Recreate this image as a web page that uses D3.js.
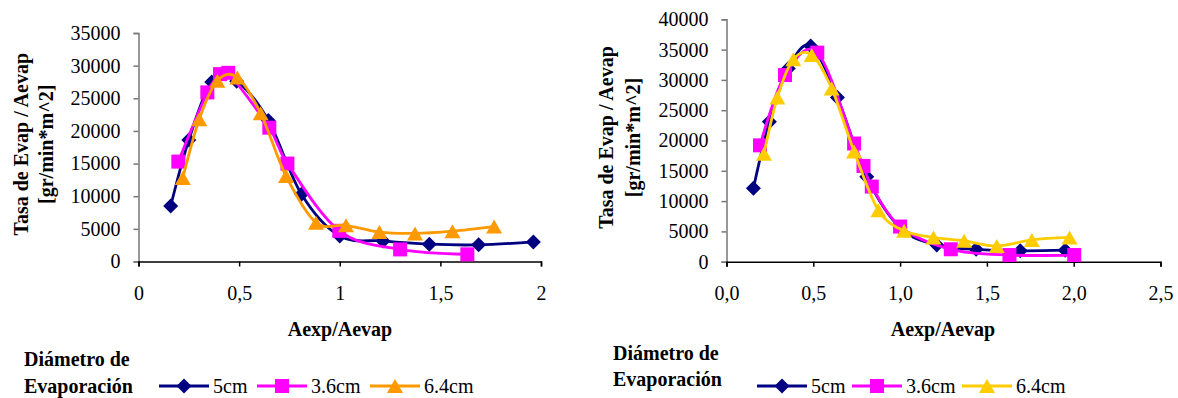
<!DOCTYPE html>
<html>
<head>
<meta charset="utf-8">
<script src="https://cdn.jsdelivr.net/npm/d3@7"></script>
<style>
  html, body { margin: 0; padding: 0; background: #fff; }
  svg { display: block; }
</style>
</head>
<body>
<svg id="chart" width="1178" height="398"></svg>
<script>
// Series names
const seriesNames = ["5cm", "3.6cm", "6.4cm"];

// Left panel: Aexp/Aevap vs evaporation rate per area
const leftX5 = [0.16, 0.25, 0.364, 0.488, 0.645, 0.81, 1.0, 1.215, 1.445, 1.69, 1.962];
const leftY5 = [8500, 18600, 27500, 27600, 21600, 10300, 3900, 3150, 2650, 2550, 3000];
const leftX36 = [0.198, 0.342, 0.405, 0.446, 0.65, 0.74, 0.998, 1.30, 1.634];
const leftY36 = [15300, 25900, 28700, 28900, 20500, 15000, 4700, 1850, 1100];
const leftX64 = [0.22, 0.302, 0.392, 0.491, 0.607, 0.733, 0.882, 1.031, 1.197, 1.374, 1.56, 1.767];
const leftY64 = [12800, 21800, 27700, 28200, 22700, 13100, 5950, 5550, 4500, 4300, 4650, 5350];
const leftXTicks = [0, 0.5, 1, 1.5, 2];
const leftXTickLabels = ["0", "0,5", "1", "1,5", "2"];
const leftYTicks = [0, 5000, 10000, 15000, 20000, 25000, 30000, 35000];

// Right panel
const rightX5 = [0.155, 0.247, 0.356, 0.485, 0.639, 0.808, 1.0, 1.211, 1.438, 1.692, 1.951];
const rightY5 = [12100, 23100, 31900, 35600, 27100, 14000, 5600, 2750, 2050, 1800, 1900];
const rightX36 = [0.193, 0.337, 0.523, 0.735, 0.789, 0.837, 1.0, 1.292, 1.63, 2.003];
const rightY36 = [19200, 30800, 34500, 19500, 15800, 12400, 5800, 2050, 1100, 1100];
const rightX64 = [0.216, 0.293, 0.385, 0.491, 0.606, 0.735, 0.875, 1.023, 1.192, 1.369, 1.557, 1.759, 1.976];
const rightY64 = [17800, 27100, 33400, 34100, 28600, 18200, 8500, 5100, 4000, 3450, 2600, 3600, 4000];
const rightXTicks = [0, 0.5, 1, 1.5, 2, 2.5];
const rightXTickLabels = ["0,0", "0,5", "1,0", "1,5", "2,0", "2,5"];
const rightYTicks = [0, 5000, 10000, 15000, 20000, 25000, 30000, 35000, 40000];

const xTitle = "Aexp/Aevap";
const yTitle1 = "Tasa de Evap / Aevap";
const yTitle2 = "[gr/min*m^2]";
const legendTitle1 = "Diámetro de";
const legendTitle2 = "Evaporación";

const FONT = "'Liberation Serif'";

const zip = (xs, ys) => xs.map((x, i) => ({ x, y: ys[i] }));

const svg = d3.select("#chart");
svg.append("rect").attr("width", 1178).attr("height", 398).attr("fill", "#fff");

// marker shapes centred at the origin
function markerPath(shape, s) {
  const h = s / 2;
  if (shape === "diamond") return `M0,${-h}L${h},0L0,${h}L${-h},0Z`;
  if (shape === "square") return `M${-h},${-h}H${h}V${h}H${-h}Z`;
  // triangle, centred on its bounding box
  return `M0,${-h}L${h + 1},${h}L${-h - 1},${h}Z`;
}

function label(sel, size, bold) {
  return sel.attr("font-family", FONT).attr("font-size", size)
    .attr("font-weight", bold ? "bold" : "normal").attr("fill", "#000");
}

function drawPanel(p) {
  const g = svg.append("g");
  const x = d3.scaleLinear().domain(p.xDomain).range(p.xRange);
  const y = d3.scaleLinear().domain(p.yDomain).range(p.yRange);

  // y axis
  const yAxis = d3.axisLeft(y).tickValues(p.yTicks).tickSize(5).tickPadding(13)
    .tickFormat(d3.format("d"));
  const ya = g.append("g").attr("transform", `translate(${p.xRange[0]},0)`).call(yAxis)
    .attr("font-family", FONT).attr("font-size", 20);
  ya.select(".domain").attr("stroke", "#777").attr("stroke-width", 1.5);
  ya.selectAll(".tick line").attr("stroke", "#777").attr("stroke-width", 1.5);
  label(ya.selectAll("text"), 20, false);

  // x axis
  const xAxis = d3.axisBottom(x).tickValues(p.xTicks).tickSize(5).tickPadding(19)
    .tickFormat((d, i) => p.xTickLabels[i]);
  const xa = g.append("g").attr("transform", `translate(0,${p.yRange[0]})`).call(xAxis)
    .attr("font-family", FONT).attr("font-size", 20);
  xa.select(".domain").attr("stroke", "#000").attr("stroke-width", 1.5);
  xa.selectAll(".tick line").attr("stroke", "#000").attr("stroke-width", 1.5);
  label(xa.selectAll("text"), 20, false);

  // titles
  label(g.append("text"), 20, true).attr("x", p.xTitleX).attr("y", 336)
    .attr("text-anchor", "middle").text(xTitle);
  const cy = (p.yRange[0] + p.yRange[1]) / 2 - 3;
  label(g.append("text"), 20, true).attr("transform", `translate(${p.yTitleX1},${cy}) rotate(-90)`)
    .attr("text-anchor", "middle").text(yTitle1);
  label(g.append("text"), 20, true).attr("transform", `translate(${p.yTitleX2},${cy}) rotate(-90)`)
    .attr("text-anchor", "middle").text(yTitle2);

  // series: smoothed lines with markers
  const line = d3.line().x(d => x(d.x)).y(d => y(d.y)).curve(d3.curveCardinal.tension(0));
  p.series.forEach(s => {
    g.append("path").datum(s.data).attr("d", line).attr("fill", "none")
      .attr("stroke", s.color).attr("stroke-width", 2.8);
    g.selectAll(null).data(s.data).enter().append("path")
      .attr("transform", d => `translate(${x(d.x)},${y(d.y)})`)
      .attr("d", markerPath(s.shape, s.size)).attr("fill", s.color);
  });

  // legend
  label(g.append("text"), 20, true).attr("x", p.legX).attr("y", p.legY1).text(legendTitle1);
  label(g.append("text"), 20, true).attr("x", p.legX).attr("y", p.legY2).text(legendTitle2);
  p.series.forEach((s, i) => {
    const lx = p.legItemX[i];
    g.append("line").attr("x1", lx).attr("x2", lx + 50).attr("y1", p.legItemY).attr("y2", p.legItemY)
      .attr("stroke", s.color).attr("stroke-width", 2.8);
    g.append("path").attr("transform", `translate(${lx + 25},${p.legItemY})`)
      .attr("d", markerPath(s.shape, s.size)).attr("fill", s.color);
    label(g.append("text"), 20, false).attr("x", lx + 54).attr("y", p.legItemY + 7).text(seriesNames[i]);
  });
}

drawPanel({
  xDomain: [0, 2], xRange: [138.5, 541],
  yDomain: [0, 35000], yRange: [261.5, 33],
  xTicks: leftXTicks, xTickLabels: leftXTickLabels, yTicks: leftYTicks,
  xTitleX: 340, yTitleX1: 28, yTitleX2: 53,
  series: [
    { data: zip(leftX5, leftY5), color: "#000080", shape: "diamond", size: 15 },
    { data: zip(leftX36, leftY36), color: "#FF00FF", shape: "square", size: 14 },
    { data: zip(leftX64, leftY64), color: "#FF9900", shape: "triangle", size: 14 }
  ],
  legX: 24, legY1: 366, legY2: 393, legItemX: [159, 257, 370], legItemY: 386
});

drawPanel({
  xDomain: [0, 2.5], xRange: [726.5, 1160.5],
  yDomain: [0, 40000], yRange: [261.7, 19.3],
  xTicks: rightXTicks, xTickLabels: rightXTickLabels, yTicks: rightYTicks,
  xTitleX: 943, yTitleX1: 613, yTitleX2: 640,
  series: [
    { data: zip(rightX5, rightY5), color: "#000080", shape: "diamond", size: 15 },
    { data: zip(rightX36, rightY36), color: "#FF00FF", shape: "square", size: 14 },
    { data: zip(rightX64, rightY64), color: "#FFCC00", shape: "triangle", size: 14 }
  ],
  legX: 613, legY1: 360, legY2: 386, legItemX: [757, 852, 962], legItemY: 386
});
</script>
</body>
</html>
